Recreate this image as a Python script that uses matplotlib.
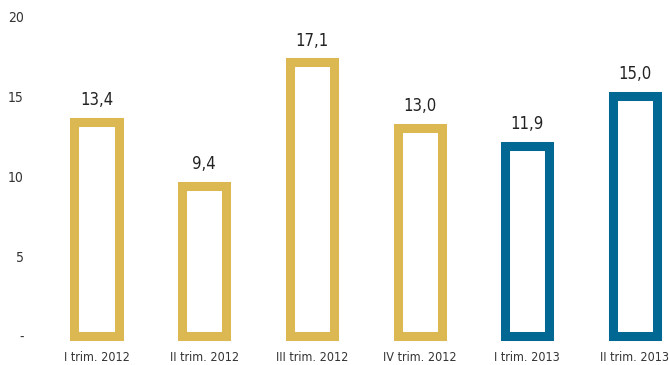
import matplotlib.pyplot as plt

plt.rcParams['font.family'] = ['DejaVu Sans']
plt.rcParams['font.stretch'] = 'condensed'

# data
categories = ['I trim. 2012', 'II trim. 2012', 'III trim. 2012', 'IV trim. 2012',
              'I trim. 2013', 'II trim. 2013']
values = [13.4, 9.4, 17.1, 13.0, 11.9, 15.0]
value_labels = ['13,4', '9,4', '17,1', '13,0', '11,9', '15,0']
colors = ['#DCB853'] * 4 + ['#006893'] * 2
yticks = [0, 5, 10, 15, 20]
ytick_labels = ['-', '5', '10', '15', '20']

fig = plt.figure(figsize=(6.69, 3.65), dpi=100)
ax = fig.add_axes([43 / 669, 15 / 365, 626 / 669, 340 / 365])

x = list(range(len(categories)))
ax.bar(x, values, width=0.41, facecolor='white', edgecolor=colors,
       linewidth=6.5, joinstyle='miter')

# value labels above bars
for xi, v, lab in zip(x, values, value_labels):
    ax.text(xi, v + 1.35, lab, ha='center', va='center', fontsize=12, color='#222222')

ax.set_xlim(-0.497, 5.316)
ax.set_ylim(-0.875, 20.375)
ax.set_xticks(x)
ax.set_xticklabels(categories, fontsize=9, color='#333333')
ax.set_yticks(yticks)
ax.set_yticklabels(ytick_labels, fontsize=10, color='#333333')
ax.tick_params(axis='x', length=0, pad=0.5)
ax.tick_params(axis='y', length=0, pad=14)
for s in ax.spines.values():
    s.set_visible(False)

fig.savefig('out.png', dpi=100)
